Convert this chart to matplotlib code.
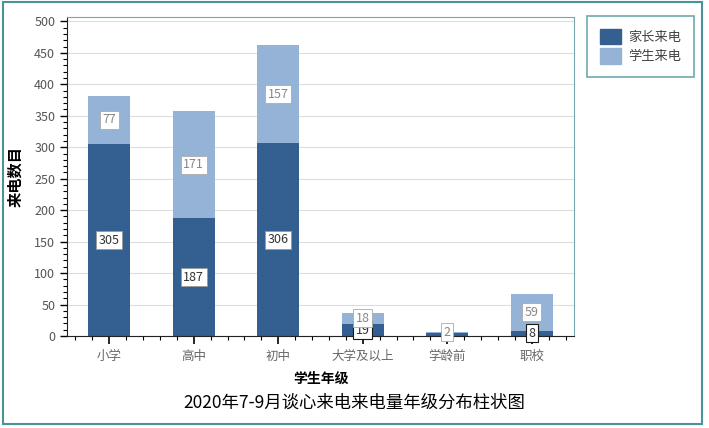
import matplotlib.pyplot as plt
from matplotlib.ticker import MultipleLocator
from matplotlib.patches import Rectangle, Patch

plt.rcParams['font.family'] = ['Noto Sans CJK SC', 'DejaVu Sans']

# data
grades = ["小学", "高中", "初中", "大学及以上", "学龄前", "职校"]
parent_calls = [305, 187, 306, 19, 5, 8]
student_calls = [77, 171, 157, 18, 2, 59]
series_names = ["家长来电", "学生来电"]

DARK = "#335f91"
LIGHT = "#95b3d7"
TEAL = "#4a9399"

fig = plt.figure(figsize=(7.09, 4.28), dpi=100)
ax = fig.add_axes([67 / 709, 92 / 428, 507 / 709, 319 / 428])

x = list(range(len(grades)))
ax.bar(x, parent_calls, width=0.5, color=DARK, zorder=2)
ax.bar(x, student_calls, width=0.5, bottom=parent_calls, color=LIGHT, zorder=2)

# value labels in boxes, at the middle of each segment
for i in x:
    p = parent_calls[i]
    s = student_calls[i]
    small = p + s < 100
    # the parent label of the tiny preschool bar is hidden in the original
    if p > 5:
        ax.text(i, p / 2, str(p), ha="center", va="center", fontsize=9,
                color="#333333", zorder=4,
                bbox=dict(boxstyle="square,pad=0.2", fc="white",
                          ec="#1a1a1a" if small else "#999999", lw=0.8 if small else 0.6))
    ax.text(i, p + s / 2, str(s), ha="center", va="center", fontsize=9,
            color="#888888", zorder=5,
            bbox=dict(boxstyle="square,pad=0.2", fc="white", ec="#aaaaaa", lw=0.6))

ax.set_xlim(-0.5, 5.5)
ax.set_ylim(0, 507)
ax.set_xticks(x)
ax.set_xticklabels(grades, fontsize=9, color="#666666")
ax.xaxis.set_minor_locator(MultipleLocator(0.2))
ax.yaxis.set_major_locator(MultipleLocator(50))
ax.yaxis.set_minor_locator(MultipleLocator(10))
ax.tick_params(axis="y", which="major", length=5, width=1, labelsize=9, labelcolor="#555555")
ax.tick_params(axis="y", which="minor", length=3, width=0.8)
ax.tick_params(axis="x", which="major", length=6, width=1.2, pad=4)
ax.tick_params(axis="x", which="minor", length=3, width=0.8)

ax.grid(axis="y", color="#dddddd", lw=0.8, zorder=0)
ax.set_axisbelow(True)

ax.spines["left"].set_color("#222222")
ax.spines["bottom"].set_color("#222222")
ax.spines["top"].set_color("#7aa6ad")
ax.spines["right"].set_color("#7aa6ad")

ax.set_ylabel("来电数目", fontsize=11, fontweight="bold", labelpad=8)
ax.set_xlabel("学生年级", fontsize=10, fontweight="bold", labelpad=6)

fig.text(0.5, 1 - 403 / 428, "2020年7-9月谈心来电来电量年级分布柱状图",
         ha="center", va="center", fontsize=12.5)

handles = [Patch(facecolor=DARK, edgecolor=DARK), Patch(facecolor=LIGHT, edgecolor=LIGHT)]
leg = fig.legend(handles, series_names, loc="upper left",
                 bbox_to_anchor=(587 / 709, 1 - 16 / 428), fontsize=9.5,
                 frameon=True, fancybox=False, handlelength=1.6, handleheight=1.4,
                 borderpad=1.0, labelspacing=0.3, handletextpad=0.5, borderaxespad=0)
leg.get_frame().set_edgecolor(TEAL)
leg.get_frame().set_linewidth(1.2)
for t in leg.get_texts():
    t.set_color("#444444")

# outer frame around the whole picture
fig.patches.append(Rectangle((3 / 709, 4 / 428), 699 / 709, 422 / 428,
                             transform=fig.transFigure, fill=False,
                             ec=TEAL, lw=1.5))

fig.savefig("out.png", dpi=100)
